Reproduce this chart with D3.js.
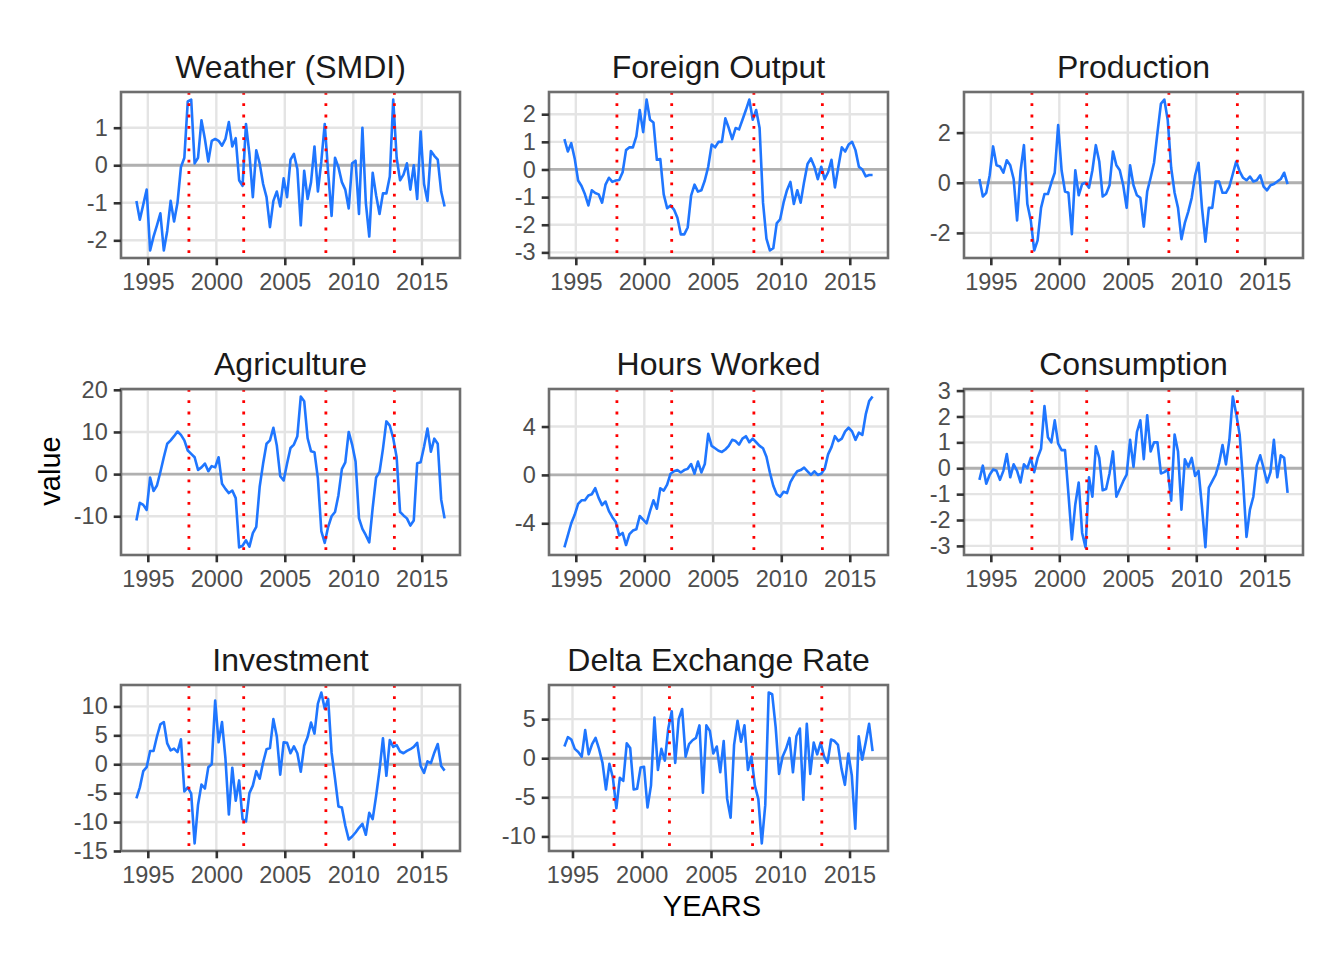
<!DOCTYPE html>
<html>
<head>
<meta charset="utf-8">
<script src="https://cdn.jsdelivr.net/npm/d3@7"></script>
<style>
    body { margin: 0; background: #fff; }
    text { font-family: "Liberation Sans", Arial, Helvetica, sans-serif; }
</style>
</head>
<body>
<svg id="chart" width="1344" height="960"></svg>
<script>
// quarterly series, first point = March 1994 (delta exchange rate starts one quarter later)
const firstQuarter = 1994 + 2 / 12;

const weather = [-0.95, -1.45, -1.05, -0.65, -2.27, -1.9, -1.6, -1.28, -2.27, -1.75,
    -0.95, -1.5, -1.0, -0.05, 0.2, 1.7, 1.75, 0.05, 0.2, 1.2,
    0.7, 0.1, 0.65, 0.7, 0.65, 0.52, 0.7, 1.15, 0.5, 0.72,
    -0.4, -0.55, 1.1, 0.3, -0.85, 0.4, 0.05, -0.5, -0.85, -1.65,
    -0.95, -0.7, -1.1, -0.35, -0.85, 0.15, 0.3, -0.1, -1.6, -0.15,
    -0.9, -0.45, 0.5, -0.7, 0.1, 1.1, -0.2, -1.35, 0.2, -0.05,
    -0.45, -0.65, -1.15, 0.05, 0.12, -1.3, 1.0, -1.0, -1.9, -0.2,
    -0.8, -1.3, -0.75, -0.75, -0.3, 1.75, 0.2, -0.4, -0.25, 0.05,
    -0.65, 0, -0.9, 0.9, -0.5, -0.95, 0.38, 0.25, 0.15, -0.7,
    -1.1];

const foreignOutput = [1.1, 0.65, 0.95, 0.4, -0.4, -0.6, -0.9, -1.3, -0.75, -0.85,
    -0.9, -1.2, -0.55, -0.3, -0.45, -0.4, -0.38, -0.1, 0.7, 0.8,
    0.8, 1.2, 2.15, 1.35, 2.53, 1.8, 1.7, 0.35, 0.38, -0.9,
    -1.4, -1.3, -1.45, -1.75, -2.35, -2.35, -2.1, -0.95, -0.55, -0.8,
    -0.75, -0.4, 0.1, 0.9, 0.8, 1.0, 1.0, 1.85, 1.5, 1.1,
    1.5, 1.45, 1.8, 2.15, 2.53, 1.8, 2.15, 1.5, -1.2, -2.5,
    -2.93, -2.85, -1.95, -1.8, -1.2, -0.75, -0.45, -1.25, -0.75, -1.2,
    -0.45, 0.2, 0.4, 0.1, -0.35, 0.1, -0.35, -0.1, 0.35, -0.65,
    0.1, 0.8, 0.65, 0.9, 1.0, 0.7, 0.1, 0.0, -0.25, -0.2,
    -0.2];

const production = [0.15, -0.55, -0.4, 0.3, 1.45, 0.7, 0.65, 0.4, 0.9, 0.7,
    0.15, -1.5, 0.45, 1.5, -0.85, -1.5, -2.7, -2.3, -1.0, -0.45,
    -0.45, 0.0, 0.4, 2.3, 0.5, -0.35, -0.4, -2.05, 0.5, -0.5,
    -0.05, 0.0, -0.2, 0.5, 1.5, 0.85, -0.55, -0.45, -0.1, 1.25,
    0.7, 0.5, -0.1, -1.0, 0.7, -0.1, -0.5, -0.6, -1.75, -0.35,
    0.2, 0.8, 2.0, 3.15, 3.32, 2.5, 0.6, -0.4, -1.0, -2.25,
    -1.6, -1.15, -0.6, 0.3, 0.8, -1.0, -2.35, -1.0, -1.0, 0.05,
    0.05, -0.4, -0.4, -0.15, 0.35, 0.85, 0.45, 0.2, 0.1, 0.25,
    0.05, 0.1, 0.3, -0.15, -0.3, -0.1, -0.05, 0.05, 0.15, 0.4,
    -0.05];

const agriculture = [-11, -6.8, -7.3, -8.5, -0.8, -4, -2.7, 0.5, 4, 7.2,
    8, 9, 10.1, 9.3, 8, 5.6, 4.8, 4.0, 1.0, 1.6,
    2.5, 0.7, 1.9, 1.6, 4.0, -2.3, -3.5, -4.5, -3.9, -5.7,
    -17.4, -17.0, -15.7, -17.2, -14, -12.5, -3, 2.5, 7.2, 8.0,
    11, 6.8, -0.5, -1.5, 2.5, 6.2, 7.0, 9.0, 18.4, 17.3,
    8.5, 5.4, 5.2, -1.0, -13.5, -16.3, -12.5, -10, -9, -5,
    1.2, 2.8, 10, 7.0, 3.0, -10.5, -13.0, -14.5, -16.2, -8.0,
    -0.8, 0.5, 6, 12.5, 11.5, 8.5, 4, -9, -9.8, -10.5,
    -12.2, -11, 2.6, 2.8, 6.5, 10.8, 5.3, 8.4, 7.2, -6,
    -10.5];

const hoursWorked = [-6.0, -5.0, -4.0, -3.3, -2.4, -2.1, -2.1, -1.7, -1.6, -1.1,
    -1.9, -2.5, -2.2, -3.0, -3.5, -3.9, -5.0, -4.8, -5.8, -4.9,
    -4.6, -4.5, -3.4, -3.7, -4.0, -3.0, -2.1, -2.8, -1.1, -1.3,
    -0.8, 0.1, 0.3, 0.4, 0.2, 0.4, 0.5, 0.9, 0.1, 1.1,
    0.2, 0.9, 3.4, 2.4, 2.2, 2.0, 1.9, 2.1, 2.4, 2.9,
    2.8, 2.5, 3.0, 3.2, 2.7, 3.0, 2.7, 2.4, 2.2, 1.5,
    0.2, -0.9, -1.6, -1.8, -1.4, -1.5, -0.6, -0.1, 0.3, 0.4,
    0.6, 0.3, 0.0, 0.3, 0.0, 0.1, 0.5, 1.7, 2.3, 3.2,
    2.8, 3.0, 3.6, 3.9, 3.6, 2.9, 3.5, 3.3, 5.0, 6.1,
    6.48];

const consumption = [-0.45, 0.1, -0.6, -0.25, -0.05, -0.1, -0.45, -0.1, 0.55, -0.35,
    0.15, -0.1, -0.55, 0.15, 0.0, 0.4, -0.15, 0.4, 0.75, 2.4,
    1.2, 1.0, 1.85, 0.95, 0.7, 0.7, -1.0, -2.75, -1.4, -0.55,
    -2.5, -3.06, -0.35, -1.1, 0.85, 0.4, -0.85, -0.8, -0.2, 0.65,
    -1.1, -0.8, -0.5, -0.25, 1.1, 0.05, 1.4, 1.85, 0.35, 2.05,
    0.65, 1.0, 1.0, -0.2, -0.15, -0.05, -1.25, 1.3, 0.65, -1.6,
    0.35, 0.05, 0.4, -0.3, -0.1, -1.5, -3.05, -0.75, -0.5, -0.25,
    0.2, 0.9, 0.15, 1.1, 2.77, 2.1, 1.3, -0.5, -2.65, -1.6,
    -1.1, 0.1, 0.5, 0.0, -0.55, -0.15, 1.1, -0.35, 0.5, 0.4,
    -0.95];

const investment = [-5.9, -4.0, -1.2, -0.5, 2.3, 2.3, 4.8, 6.9, 7.3, 3.6,
    2.4, 2.7, 2.1, 4.3, -4.7, -4.0, -5.1, -13.7, -7.0, -3.5,
    -4.2, -0.5, 0.0, 11, 3.8, 7.3, 1.0, -8.7, -0.6, -6.3,
    -2.8, -9.5, -9.9, -5.0, -3.7, -1.2, -2.5, 0.3, 2.6, 2.8,
    7.8, 4.8, -1.8, 3.8, 3.7, 1.9, 3.1, 1.9, -1.3, 3.2,
    4.7, 7.2, 5.3, 10.5, 12.4, 9.6, 11.3, 2.0, -2.5, -7.3,
    -7.5, -10.6, -13.0, -12.5, -11.8, -11.0, -10.3, -12.2, -8.4, -9.5,
    -5.5, -1.0, 4.5, -2.0, 4.2, 3.0, 3.3, 2.2, 1.9, 2.3,
    2.6, 3.0, 3.7, -0.3, -1.5, 0.5, 0.2, 2.0, 3.5, -0.3,
    -1.1];

const deltaExchangeRate = [1.5, 2.7, 2.4, 1.2, 0.8, 0.2, 3.6, 0.5, 1.8, 2.6,
    1.2, -0.6, -4.0, -0.7, -2.5, -6.4, -2.5, -2.9, 1.9, 1.3,
    -4.0, -3.9, -1.2, -1.1, -6.3, -3.5, 5.2, -1.5, 1.2, -0.3,
    3.8, 6.0, -0.6, 5.0, 6.3, 0.2, 1.8, 2.3, 2.6, 4.2,
    -4.4, 4.2, 3.5, 0.6, 1.5, -1.8, 2.2, -5.2, -7.6, 1.7,
    4.8, 2.1, 4.2, -1.5, 0.2, -3.5, -5.2, -10.9, -6, 8.4,
    8.2, 4, -2, 0.2, 1.2, 2.6, -1.8, 2.8, 3.8, -5.3,
    4.4, -2, 2, 0.5, 2, 0.2, -0.6, 2.4, 2.2, 1.7,
    -1.3, -3.4, 0.6, -2.2, -9, 2.8, -0.2, 2, 4.4, 0.9];

const titles = ['Weather (SMDI)', 'Foreign Output', 'Production', 'Agriculture',
    'Hours Worked', 'Consumption', 'Investment', 'Delta Exchange Rate'];
const seriesList = [weather, foreignOutput, production, agriculture,
    hoursWorked, consumption, investment, deltaExchangeRate];
const seriesLag = [0, 0, 0, 0, 0, 0, 0, 1];
const yTickValues = [
    [-2, -1, 0, 1],
    [-3, -2, -1, 0, 1, 2],
    [-2, 0, 2],
    [-10, 0, 10, 20],
    [-4, 0, 4],
    [-3, -2, -1, 0, 1, 2, 3],
    [-15, -10, -5, 0, 5, 10],
    [-10, -5, 0, 5]
];
const xTickValues = [1995, 2000, 2005, 2010, 2015];
const breakYears = [1998, 2002, 2008, 2013];

const colors = {
    line: '#1f76ff',
    breaks: '#ff0000',
    zero: '#b0b0b0',
    grid: '#e4e4e4',
    border: '#6e6e6e',
    tick: '#333333',
    tickText: '#4d4d4d'
};

const svg = d3.select('#chart');
const colLeft = [121, 549, 964];
const rowTop = [92, 389, 685];
const panelW = 339;
const panelH = 166;

seriesList.forEach(function (values, k) {
    const col = k % 3, row = Math.floor(k / 3);
    const data = values.map((v, i) => ({date: firstQuarter + (seriesLag[k] + i) * 0.25, value: v}));

    // ggplot style 5% expansion, free scales
    const xExt = d3.extent(data, d => d.date);
    const xPad = (xExt[1] - xExt[0]) * 0.05;
    const yExt = d3.extent(data, d => d.value);
    const yPad = (yExt[1] - yExt[0]) * 0.05;

    const xScale = d3.scaleLinear()
        .domain([xExt[0] - xPad, xExt[1] + xPad])
        .range([0, panelW]);
    const yScale = d3.scaleLinear()
        .domain([yExt[0] - yPad, yExt[1] + yPad])
        .range([panelH, 0]);

    const g = svg.append('g')
        .attr('transform', `translate(${colLeft[col]}, ${rowTop[row]})`);

    g.append('clipPath')
        .attr('id', 'clip' + k)
        .append('rect')
        .attr('width', panelW)
        .attr('height', panelH);

    const inner = g.append('g').attr('clip-path', `url(#clip${k})`);

    // grid
    inner.selectAll('.vgrid')
        .data(xTickValues)
        .enter()
        .append('line')
        .attr('x1', d => xScale(d)).attr('x2', d => xScale(d))
        .attr('y1', 0).attr('y2', panelH)
        .attr('stroke', colors.grid)
        .attr('stroke-width', 2.4);

    inner.selectAll('.hgrid')
        .data(yTickValues[k])
        .enter()
        .append('line')
        .attr('x1', 0).attr('x2', panelW)
        .attr('y1', d => yScale(d)).attr('y2', d => yScale(d))
        .attr('stroke', colors.grid)
        .attr('stroke-width', 2.4);

    // zero line
    inner.append('line')
        .attr('x1', 0).attr('x2', panelW)
        .attr('y1', yScale(0)).attr('y2', yScale(0))
        .attr('stroke', colors.zero)
        .attr('stroke-width', 2.8);

    // series
    inner.append('path')
        .datum(data)
        .attr('d', d3.line().x(d => xScale(d.date)).y(d => yScale(d.value)))
        .attr('fill', 'none')
        .attr('stroke', colors.line)
        .attr('stroke-width', 2.6)
        .attr('stroke-linejoin', 'round');

    // break dates
    inner.selectAll('.brk')
        .data(breakYears)
        .enter()
        .append('line')
        .attr('x1', d => xScale(d)).attr('x2', d => xScale(d))
        .attr('y1', 0).attr('y2', panelH)
        .attr('stroke', colors.breaks)
        .attr('stroke-width', 2.8)
        .attr('stroke-dasharray', '2.8 8.5');

    // border
    g.append('rect')
        .attr('width', panelW)
        .attr('height', panelH)
        .attr('fill', 'none')
        .attr('stroke', colors.border)
        .attr('stroke-width', 2.6);

    // axes
    const xAxisG = g.append('g')
        .attr('transform', `translate(0, ${panelH})`)
        .call(d3.axisBottom(xScale).tickValues(xTickValues).tickFormat(d3.format('d'))
            .tickSize(7.3).tickPadding(8));
    const yAxisG = g.append('g')
        .call(d3.axisLeft(yScale).tickValues(yTickValues[k]).tickFormat(d3.format('d'))
            .tickSize(7.3).tickPadding(6));

    [xAxisG, yAxisG].forEach(function (ax) {
        ax.select('.domain').remove();
        ax.selectAll('.tick line')
            .attr('stroke', colors.tick)
            .attr('stroke-width', 2.6);
        ax.selectAll('.tick text')
            .attr('fill', colors.tickText)
            .style('font-size', '23.5px')
            .style('font-family', '"Liberation Sans", Arial, sans-serif');
    });
    yAxisG.selectAll('.tick text').text(d => d < 0 ? '-' + Math.abs(d) : d);

    // strip title
    g.append('text')
        .attr('x', panelW / 2)
        .attr('y', -14)
        .attr('text-anchor', 'middle')
        .attr('fill', '#1a1a1a')
        .style('font-size', '32px')
        .text(titles[k]);
});

// axis titles
svg.append('text')
    .attr('x', 712)
    .attr('y', 916)
    .attr('text-anchor', 'middle')
    .attr('fill', '#000')
    .style('font-size', '29px')
    .text('YEARS');

svg.append('text')
    .attr('transform', 'translate(60, 471) rotate(-90)')
    .attr('text-anchor', 'middle')
    .attr('fill', '#000')
    .style('font-size', '29px')
    .text('value');
</script>
</body>
</html>
